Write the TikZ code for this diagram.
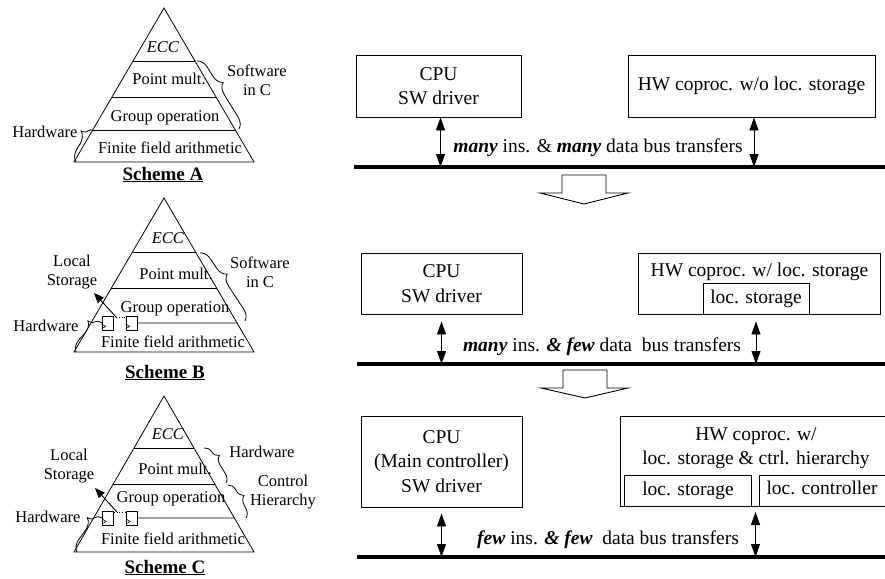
\documentclass[tikz,border=0pt]{standalone}
\usepackage{fontspec}
\setmainfont{Liberation Serif}
\usetikzlibrary{arrows.meta,decorations.pathreplacing,calc}
\begin{document}
\begin{tikzpicture}[x=1pt,y=-1pt,
  lf/.style={font=\fontsize{16.5}{19}\selectfont, inner sep=0pt, text height=11pt, text depth=3.5pt},
  lfm/.style={font=\fontsize{16.5}{19}\selectfont, inner sep=0pt, align=center},
  rf/.style={font=\fontsize{19.5}{24}\selectfont, inner sep=0pt, text height=13pt, text depth=4.5pt},
  bx/.style={draw, line width=0.9pt, inner sep=0pt, align=center, font=\fontsize{19.5}{24.5}\selectfont},
  dbl/.style={line width=0.9pt, {Triangle[length=13pt,width=9pt]}-{Triangle[length=13pt,width=9pt]}},
  bus/.style={line width=3.4pt},
  pyr/.style={line width=0.8pt},
  hwbrace/.style={pyr, decorate, decoration={brace, amplitude=12pt, aspect=0.8}},
  swbrace/.style={pyr, decorate, decoration={brace, amplitude=11pt, aspect=0.4}},
  ff/.style={draw, line width=0.8pt, minimum width=11pt, minimum height=14pt, inner sep=0pt},
  lsarrow/.style={line width=0.9pt, -{Triangle[length=10pt,width=8pt]}},
  blk/.style={line width=0.9pt, line join=miter},
  sch/.style={font=\fontsize{19}{22}\selectfont\bfseries, inner sep=0pt, anchor=base}
]
\useasboundingbox (0,0) rectangle (885,578);

% ================= Scheme A =================
\coordinate (Aa) at (164,8); \coordinate (Al) at (74,162); \coordinate (Ar) at (254,162);
\draw[pyr] (Al) -- (Aa) -- (Ar) -- cycle;
\draw[pyr] ($(Aa)!0.344!(Al)$) -- ($(Aa)!0.344!(Ar)$);
\draw[pyr] ($(Aa)!0.578!(Al)$) -- ($(Aa)!0.578!(Ar)$);
\draw[pyr] ($(Aa)!0.795!(Al)$) -- ($(Aa)!0.795!(Ar)$);
\node[lf] (AE) at (163,49) {\textit{ECC}};
\node[lf] (AP) at (169,81) {Point mult.};
\node[lf] (AG) at (165,118) {Group operation};
\node[lf] (AF) at (170,150) {Finite field arithmetic};
\node[sch] (AS) at (163,180) {\underline{Scheme A}};
\draw[swbrace] (197,61) -- (239,129);
\node[lfm] (ASW) at (257,80) {Software\\in C};
\draw[hwbrace] (76,162) -- (95,131);
\node[lf] (AHW) at (45,134) {Hardware};

% ================= Scheme B =================
\coordinate (Ba) at (164,198); \coordinate (Bl) at (74,352); \coordinate (Br) at (254,352);
\draw[pyr] (Bl) -- (Ba) -- (Br) -- cycle;
\draw[pyr] ($(Ba)!0.35!(Bl)$) -- ($(Ba)!0.35!(Br)$);
\draw[pyr] ($(Ba)!0.584!(Bl)$) -- ($(Ba)!0.584!(Br)$);
\node[ff] (Bf1) at (107.5,323) {};
\node[ff] (Bf2) at (131.5,323) {};
\draw[pyr] (Bf2.east) -- ($(Ba)!0.812!(Br)$);
\foreach \f in {Bf1,Bf2}{
  \draw[line width=0.6pt] ($(\f.south west)+(0,-1.5)$) -- ++(4,-2.5) -- ++(-4,-2.5);
}
\draw[dotted, line width=0.7pt] ($(Bf1.north east)+(0,2)$) -- ($(Bf2.north west)+(0,2)$);
\coordinate (Bls) at (117,318); \coordinate (Blt) at (94,293);
\draw[lsarrow] (Bls) -- (Blt);
\node[lfm] (BLS) at (72,272) {Local\\Storage};
\node[lf] (BE) at (168,240) {\textit{ECC}};
\node[lf] (BP) at (176,276) {Point mult.};
\node[lf] (BG) at (175,309) {Group operation};
\node[lf] (BF) at (173,344) {Finite field arithmetic};
\node[sch] (BS) at (165,378) {\underline{Scheme B}};
\draw[swbrace] (200,253) -- (245,321);
\node[lfm] (BSW) at (260,272) {Software\\in C};
\draw[hwbrace] (76,352) -- (102,323);
\node[lf] (BHW) at (46,328) {Hardware};

% ================= Scheme C =================
\coordinate (Ca) at (164,396); \coordinate (Cl) at (74,552); \coordinate (Cr) at (254,552);
\draw[pyr] (Cl) -- (Ca) -- (Cr) -- cycle;
\draw[pyr] ($(Ca)!0.333!(Cl)$) -- ($(Ca)!0.333!(Cr)$);
\draw[pyr] ($(Ca)!0.564!(Cl)$) -- ($(Ca)!0.564!(Cr)$);
\node[ff] (Cf1) at (108,518) {};
\node[ff] (Cf2) at (132,518) {};
\draw[pyr] (Cf2.east) -- ($(Ca)!0.782!(Cr)$);
\foreach \f in {Cf1,Cf2}{
  \draw[line width=0.6pt] ($(\f.south west)+(0,-1.5)$) -- ++(4,-2.5) -- ++(-4,-2.5);
}
\draw[dotted, line width=0.7pt] ($(Cf1.north east)+(0,2)$) -- ($(Cf2.north west)+(0,2)$);
\coordinate (Cls) at (117,512); \coordinate (Clt) at (95,488);
\draw[lsarrow] (Cls) -- (Clt);
\node[lfm] (CLS) at (69,466) {Local\\Storage};
\node[lf] (CE) at (168,436) {\textit{ECC}};
\node[lf] (CP) at (175,471) {Point mult.};
\node[lf] (CG) at (171,499) {Group operation};
\node[lf] (CF) at (173,541) {Finite field arithmetic};
\node[sch] (CS) at (165,573) {\underline{Scheme C}};
\draw[pyr, decorate, decoration={brace, amplitude=9pt, aspect=0.35}] (204,448) -- (226,483);
\node[lf] (CHW2) at (262,454) {Hardware};
\draw[pyr, decorate, decoration={brace, amplitude=9pt, aspect=0.45}] (228,485) -- (246,518);
\node[lfm] (CCH) at (283,492) {Control\\Hierarchy};
\draw[hwbrace] (77,552) -- (102,518);
\node[lf] (CHW) at (48,519) {Hardware};

% ================= Row 1 =================
\node[bx, minimum width=165pt, minimum height=62pt] (cpu1) at (438.5,86) {CPU\\SW driver};
\node[bx, minimum width=247pt, minimum height=62pt] (hw1) at (751.5,86) {HW coproc. w/o loc. storage};
\coordinate (b1L) at (354,167); \coordinate (b1R) at (890,167);
\draw[bus] (b1L) -- (b1R);
\draw[dbl] ([xshift=2pt]cpu1.south) -- ([xshift=2pt]cpu1.south |- b1L);
\draw[dbl] ([xshift=2.5pt]hw1.south) -- ([xshift=2.5pt]hw1.south |- b1L);
\node[rf] (t1) at (598,148) {\textbf{\textit{many}} ins. \& \textbf{\textit{many}} data bus transfers};

% block arrow 1
\draw[blk] (562,175) -- (606,175) -- (606,193) -- (628,193) -- (584,204) -- (540,193) -- (562,193) -- cycle;

% ================= Row 2 =================
\node[bx, minimum width=161pt, minimum height=61pt] (cpu2) at (441.5,283.5) {CPU\\SW driver};
\draw[line width=0.9pt] (638,253) rectangle (880,314);
\node[rf] (hw2) at (759.5,272) {HW coproc. w/ loc. storage};
\node[bx, minimum width=106pt, minimum height=31pt] (ls2) at (756,298.5) {loc. storage};
\coordinate (b2L) at (357,364); \coordinate (b2R) at (890,364);
\draw[bus] (b2L) -- (b2R);
\draw[dbl] ([yshift=-7pt]cpu2.south) -- (cpu2.south |- b2L);
\draw[dbl] ([yshift=-7pt]ls2.south) -- (ls2.south |- b2L);
\node[rf] (t2) at (602,347) {\textbf{\textit{many}} ins. \textbf{\textit{\& few}} data\ \ bus transfers};

% block arrow 2
\draw[blk] (563,370) -- (607,370) -- (607,388) -- (628,388) -- (585,398) -- (541,388) -- (563,388) -- cycle;

% ================= Row 3 =================
\node[bx, minimum width=161pt, minimum height=91pt] (cpu3) at (441.5,461.5) {CPU\\(Main controller)\\SW driver};
\draw[line width=0.9pt] (895,416) -- (620,416) -- (620,506) -- (895,506);
\node[bx, draw=none] (hw3) at (756,448) {HW coproc. w/\\loc. storage \& ctrl. hierarchy};
\node[bx, minimum width=127pt, minimum height=31pt] (ls3) at (688,490.5) {loc. storage};
\draw[line width=0.9pt] (895,475) -- (759,475) -- (759,506);
\node[rf] (lc3) at (822,490) {loc. controller};
\coordinate (b3L) at (357,557); \coordinate (b3R) at (890,557);
\draw[bus] (b3L) -- (b3R);
\draw[dbl] ([yshift=-6pt]cpu3.south) -- (cpu3.south |- b3L);
\coordinate (a3) at (755.5,512);
\draw[dbl] (a3) -- (a3 |- b3L);
\node[rf] (t3) at (608,540) {\textbf{\textit{few}} ins. \textbf{\textit{\& few}}\ \ data bus transfers};
\end{tikzpicture}
\end{document}
